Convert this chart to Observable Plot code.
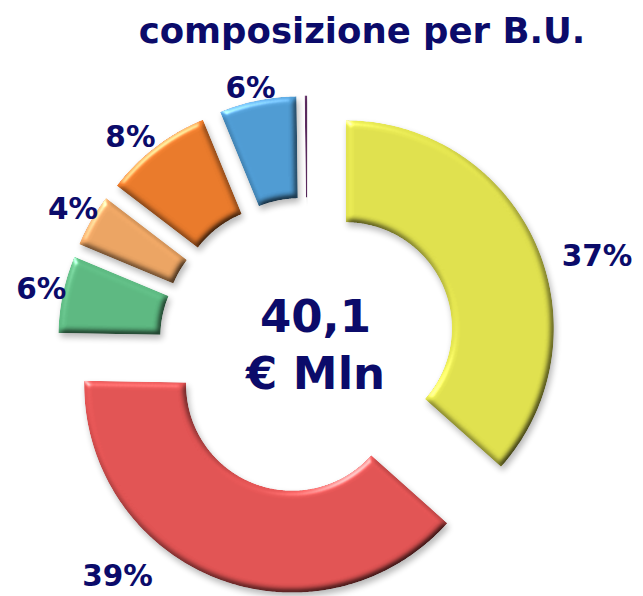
<!DOCTYPE html>
<html><head><meta charset="utf-8">
<script src="https://cdn.jsdelivr.net/npm/d3@7"></script>
<script src="https://cdn.jsdelivr.net/npm/@observablehq/plot@0.6"></script>
<style>
html,body{margin:0;padding:0;background:#fff;}
#chart svg{display:block;}
#chart g[aria-label="line"] path{filter:url(#bevel);}
</style></head><body>
<svg width="0" height="0" style="position:absolute">
<defs>
<filter id="bevel" x="-20%" y="-20%" width="140%" height="140%" color-interpolation-filters="sRGB">
 <feGaussianBlur in="SourceAlpha" stdDeviation="3.2" result="blur"/>
 <feDiffuseLighting in="blur" surfaceScale="3.5" diffuseConstant="1.2" lighting-color="#fff" result="diff">
   <feDistantLight azimuth="235" elevation="55"/>
 </feDiffuseLighting>
 <feComposite in="SourceGraphic" in2="diff" operator="arithmetic" k1="1" k2="0" k3="0" k4="0" result="shaded"/>
 <feSpecularLighting in="blur" surfaceScale="3.5" specularConstant="0.45" specularExponent="30" lighting-color="#fff" result="spec">
   <feDistantLight azimuth="235" elevation="30"/>
 </feSpecularLighting>
 <feComposite in="spec" in2="SourceAlpha" operator="in" result="specIn"/>
 <feComposite in="shaded" in2="specIn" operator="arithmetic" k1="0" k2="1" k3="1" k4="0" result="lit"/>
 <feComposite in="lit" in2="SourceAlpha" operator="in" result="litIn"/>
 <feGaussianBlur in="SourceAlpha" stdDeviation="3" result="sh"/>
 <feOffset in="sh" dx="2" dy="4" result="sho"/>
 <feComponentTransfer in="sho" result="shadow"><feFuncA type="linear" slope="0.28"/></feComponentTransfer>
 <feMerge><feMergeNode in="shadow"/><feMergeNode in="litIn"/></feMerge>
</filter>
</defs></svg>
<div id="chart"></div>
<script>
// ---- data ----
const businessUnits = ["B.U. 1", "B.U. 2", "B.U. 3", "B.U. 4", "B.U. 5", "B.U. 6", "B.U. 7"];
const shares = [36.6, 38.7, 6.0, 4.1, 8.4, 6.0, 0.2];
const shareLabels = ["37%", "39%", "6%", "4%", "8%", "6%", ""];
const centerLines = ["40,1", "€ Mln"];
const titleText = "composizione per B.U.";

// ---- styles / layout ----
const palette = ["#e2e34e", "#e45454", "#5dba82", "#eea664", "#ec7b2b", "#4f9cd4", "#5a2a5e"];
const ink = "#0b0b6a";
const W = 643, H = 596;
const cx = 307, cy = 345, R = 208, r0 = 106, explode = 42;
// label placement: [angle shift in degrees, radius]
const labelLayout = [[7, 303], [18, 299], [0, 272], [0, 271], [-3, 273], [-1, 263], [0, 0]];

const total = d3.sum(shares);
let acc = 0;
const arcs = shares.map((v, i) => {
  const a0 = acc / total * 2 * Math.PI; acc += v;
  const a1 = acc / total * 2 * Math.PI;
  return {i, a0, a1, mid: (a0 + a1) / 2};
});

function polygon(arc) {
  const ox = cx + explode * Math.sin(arc.mid), oy = cy - explode * Math.cos(arc.mid);
  const n = Math.max(2, Math.ceil((arc.a1 - arc.a0) / 0.01));
  const pts = [];
  for (let k = 0; k <= n; k++) {
    const a = arc.a0 + (arc.a1 - arc.a0) * k / n;
    pts.push({unit: businessUnits[arc.i], x: ox + R * Math.sin(a), y: oy - R * Math.cos(a)});
  }
  for (let k = n; k >= 0; k--) {
    const a = arc.a0 + (arc.a1 - arc.a0) * k / n;
    pts.push({unit: businessUnits[arc.i], x: ox + r0 * Math.sin(a), y: oy - r0 * Math.cos(a)});
  }
  return pts;
}

const sliceMarks = arcs.map(arc => Plot.line(polygon(arc), {
  x: "x", y: "y", fill: palette[arc.i], stroke: "none", curve: "linear-closed"
}));

const labelData = arcs.filter(a => shareLabels[a.i] !== "").map(a => {
  const [shift, rad] = labelLayout[a.i];
  const ang = a.mid + shift * Math.PI / 180;
  return {text: shareLabels[a.i], x: cx + rad * Math.sin(ang), y: cy - rad * Math.cos(ang)};
});

const centerData = centerLines.map((t, k) => ({text: t, x: cx + 8, y: cy - 28 + k * 57}));
const titleData = [{text: titleText, x: 361.5, y: 31}];

const chart = Plot.plot({
  width: W, height: H, margin: 0,
  x: {type: "linear", domain: [0, W], range: [0, W], axis: null},
  y: {type: "linear", domain: [0, H], range: [0, H], axis: null},
  marks: [
    ...sliceMarks,
    Plot.text(labelData, {x: "x", y: "y", text: "text", fill: ink, fontSize: 29.5, fontWeight: "bold", fontFamily: "DejaVu Sans", textAnchor: "middle"}),
    Plot.text(centerData, {x: "x", y: "y", text: "text", fill: ink, fontSize: 45, fontWeight: "bold", fontFamily: "DejaVu Sans", textAnchor: "middle"}),
    Plot.text(titleData, {x: "x", y: "y", text: "text", fill: ink, fontSize: 35.5, fontWeight: "bold", fontFamily: "DejaVu Sans", textAnchor: "middle"})
  ]
});
document.getElementById("chart").appendChild(chart);
</script>
</body></html>
